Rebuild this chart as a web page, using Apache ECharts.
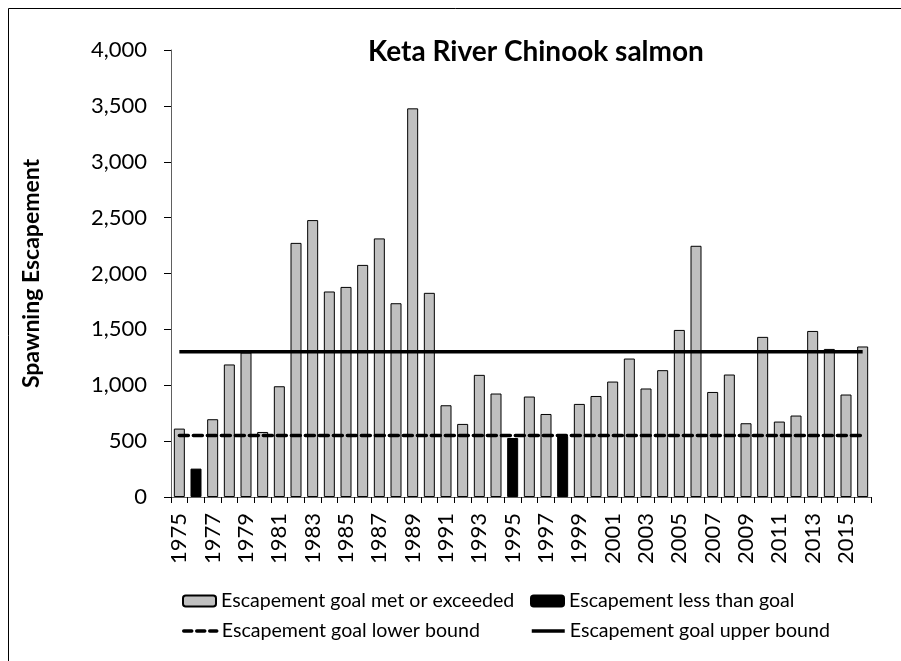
<!DOCTYPE html>
<html>
<head>
<meta charset="utf-8">
<script src="https://cdn.jsdelivr.net/npm/echarts@6/dist/echarts.min.js"></script>
<style>
html,body{margin:0;padding:0;background:#fff;}
#chart{width:901px;height:661px;}
</style>
</head>
<body>
<div id="chart"></div>
<script>
const years = ["1975","1976","1977","1978","1979","1980","1981","1982","1983","1984","1985","1986","1987","1988","1989","1990","1991","1992","1993","1994","1995","1996","1997","1998","1999","2000","2001","2002","2003","2004","2005","2006","2007","2008","2009","2010","2011","2012","2013","2014","2015","2016"];
const goalMet = [612,null,696,1186,1293,582,991,2274,2478,1839,1880,2077,2314,1734,3478,1827,821,654,1093,926,null,899,743,null,833,904,1033,1239,971,1135,1495,2248,940,1096,660,1433,675,729,1486,1325,917,1347];
const belowGoal = [null,254,null,null,null,null,null,null,null,null,null,null,null,null,null,null,null,null,null,null,528,null,null,545,null,null,null,null,null,null,null,null,null,null,null,null,null,null,null,null,null,null];
const lowerBound = [550,550,550,550,550,550,550,550,550,550,550,550,550,550,550,550,550,550,550,550,550,550,550,550,550,550,550,550,550,550,550,550,550,550,550,550,550,550,550,550,550,550];
const upperBound = [1300,1300,1300,1300,1300,1300,1300,1300,1300,1300,1300,1300,1300,1300,1300,1300,1300,1300,1300,1300,1300,1300,1300,1300,1300,1300,1300,1300,1300,1300,1300,1300,1300,1300,1300,1300,1300,1300,1300,1300,1300,1300];
const yTicks = [0,500,1000,1500,2000,2500,3000,3500,4000];
const names = ["Escapement goal met or exceeded","Escapement less than goal","Escapement goal lower bound","Escapement goal upper bound"];

const FONT = "Lato";
const chart = echarts.init(document.getElementById('chart'), null, {renderer:'canvas'});
const legendText = {fontFamily: FONT, fontSize: 19.6, color: '#000'};
function leg(name, left, top, extra){
  return Object.assign({data:[name], left:left, top:top, itemWidth:33, itemHeight:11, itemGap:0,
    textStyle: legendText, padding:0, selectedMode:false}, extra||{});
}
chart.setOption({
  animation:false,
  backgroundColor:'#fff',
  graphic:[{type:'rect', shape:{x:8.5,y:8.5,width:1000,height:1000}, style:{fill:'none', stroke:'#000', lineWidth:1}}],
  title:{text:'Keta River Chinook salmon', left:531, top:33, textAlign:'center',
    textStyle:{fontFamily:FONT, fontWeight:'bold', fontSize:28, color:'#000'}},
  grid:{left:171, right:30, top:50, bottom:164},
  legend:[
    leg(names[0],182,591),
    leg(names[1],530,591),
    leg(names[2],182,621,{itemStyle:{opacity:0}, lineStyle:{width:3.5, type:[8,5], color:'#000'}}),
    leg(names[3],530,621,{itemStyle:{opacity:0}, lineStyle:{width:3.5, type:'solid', color:'#000'}})
  ],
  xAxis:{type:'category', data:years, boundaryGap:true,
    axisLine:{lineStyle:{color:'#606060', width:1}},
    axisTick:{show:true, interval:0, length:6, lineStyle:{color:'#000'}},
    axisLabel:{interval:1, rotate:90, margin:16, fontFamily:FONT, fontSize:22, color:'#000'}},
  yAxis:{type:'value', min:0, max:4000, interval:500,
    name:'Spawning Escapement', nameLocation:'middle', nameRotate:90, nameGap:128,
    nameTextStyle:{fontFamily:FONT, fontWeight:'bold', fontSize:23, color:'#000'},
    axisLine:{show:true, lineStyle:{color:'#606060', width:1}},
    axisTick:{show:true, length:7, lineStyle:{color:'#000'}},
    splitLine:{show:false},
    axisLabel:{margin:24, fontFamily:FONT, fontSize:22, color:'#000',
      formatter:function(v){return v.toLocaleString('en-US');}}},
  series:[
    {name:names[0], type:'bar', data:goalMet, barWidth:11, barGap:'-100%',
      itemStyle:{color:'#c0c0c0', borderColor:'#000', borderWidth:1}},
    {name:names[1], type:'bar', data:belowGoal, barWidth:11, barGap:'-100%',
      itemStyle:{color:'#000', borderColor:'#000', borderWidth:1}},
    {name:names[2], type:'line', data:lowerBound, symbol:'none', z:5,
      lineStyle:{color:'#000', width:3.5, type:[9,5], cap:'round'}, itemStyle:{color:'#000'}},
    {name:names[3], type:'line', data:upperBound, symbol:'none', z:5,
      lineStyle:{color:'#000', width:3.5}, itemStyle:{color:'#000'}}
  ]
});
</script>
</body>
</html>
